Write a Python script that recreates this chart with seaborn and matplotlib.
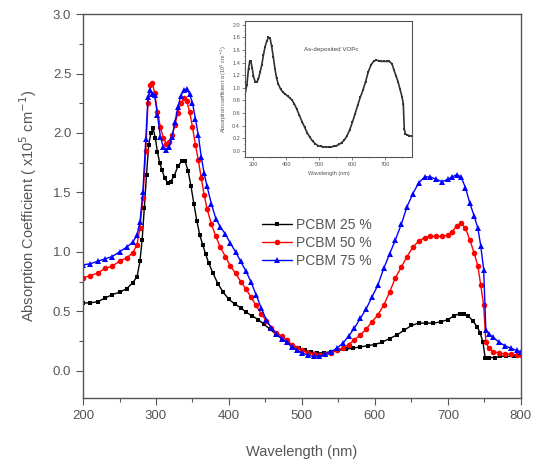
import numpy as np
import pandas as pd
import matplotlib
matplotlib.use("Agg")
import matplotlib.pyplot as plt
import seaborn as sns
from matplotlib.ticker import MultipleLocator

sns.set_style("ticks")
plt.rcParams['font.family'] = ['Liberation Sans', 'DejaVu Sans']

# PCBM 25 %
wl_25 = [200, 210, 220, 230, 240, 250, 260, 268, 274, 278,
         281, 284, 287, 290, 293, 296, 299, 302, 305, 308,
         312, 316, 320, 325, 330, 335, 340, 344, 348, 352,
         356, 360, 364, 368, 372, 378, 385, 392, 400, 408,
         416, 424, 432, 440, 448, 456, 464, 472, 480, 488,
         496, 504, 512, 520, 530, 540, 550, 560, 570, 580,
         590, 600, 610, 620, 630, 640, 650, 660, 670, 680,
         690, 700, 708, 716, 722, 728, 734, 740, 744, 748,
         751, 756, 764, 772, 780, 790, 800]
abs_25 = [0.57, 0.57, 0.58, 0.61, 0.64, 0.66, 0.69, 0.74, 0.79, 0.92,
          1.10, 1.37, 1.65, 1.90, 2.00, 2.04, 1.96, 1.84, 1.75, 1.69,
          1.62, 1.58, 1.59, 1.64, 1.72, 1.76, 1.76, 1.68, 1.55, 1.40,
          1.26, 1.14, 1.06, 0.98, 0.91, 0.82, 0.73, 0.66, 0.60, 0.56,
          0.53, 0.49, 0.46, 0.43, 0.39, 0.35, 0.31, 0.27, 0.24, 0.21,
          0.19, 0.17, 0.16, 0.15, 0.15, 0.16, 0.17, 0.18, 0.19, 0.20,
          0.21, 0.22, 0.24, 0.27, 0.30, 0.34, 0.38, 0.40, 0.40, 0.40,
          0.41, 0.43, 0.46, 0.48, 0.48, 0.46, 0.42, 0.37, 0.32, 0.24,
          0.11, 0.11, 0.11, 0.12, 0.12, 0.12, 0.13]

# PCBM 50 % e 75 % usam os mesmos comprimentos de onda
wl_50_75 = [200, 210, 220, 230, 240, 250, 260, 268, 274, 278,
            282, 286, 289, 292, 295, 298, 302, 306, 310, 314,
            318, 322, 326, 330, 334, 338, 342, 346, 350, 354,
            358, 362, 366, 370, 376, 382, 388, 395, 402, 409,
            416, 423, 430, 437, 444, 451, 458, 465, 472, 479,
            486, 493, 500, 508, 516, 524, 532, 540, 548, 556,
            564, 572, 580, 588, 596, 604, 612, 620, 628, 636,
            644, 652, 660, 668, 676, 684, 692, 700, 706, 712,
            718, 724, 730, 736, 741, 745, 749, 752, 756, 762,
            770, 778, 786, 794, 800]
abs_50 = [0.78, 0.80, 0.82, 0.86, 0.88, 0.92, 0.95, 0.99, 1.06, 1.20,
          1.45, 1.85, 2.25, 2.40, 2.42, 2.34, 2.18, 2.05, 1.96, 1.91,
          1.92, 1.98, 2.07, 2.17, 2.25, 2.29, 2.27, 2.18, 2.05, 1.90,
          1.77, 1.62, 1.48, 1.36, 1.23, 1.13, 1.04, 0.96, 0.88, 0.82,
          0.75, 0.69, 0.62, 0.55, 0.48, 0.42, 0.36, 0.32, 0.29, 0.26,
          0.22, 0.19, 0.17, 0.15, 0.14, 0.13, 0.14, 0.15, 0.17, 0.19,
          0.22, 0.26, 0.30, 0.35, 0.41, 0.47, 0.55, 0.66, 0.78, 0.87,
          0.96, 1.04, 1.09, 1.12, 1.13, 1.13, 1.13, 1.14, 1.17, 1.22,
          1.24, 1.20, 1.10, 0.99, 0.88, 0.72, 0.55, 0.24, 0.19, 0.16,
          0.15, 0.14, 0.14, 0.13, 0.13]
abs_75 = [0.89, 0.90, 0.92, 0.94, 0.96, 1.00, 1.04, 1.08, 1.14, 1.25,
          1.50, 1.95, 2.30, 2.36, 2.33, 2.32, 2.15, 1.97, 1.88, 1.86,
          1.88, 1.97, 2.09, 2.22, 2.31, 2.36, 2.37, 2.33, 2.25, 2.12,
          1.98, 1.80, 1.66, 1.55, 1.40, 1.28, 1.21, 1.15, 1.07, 1.00,
          0.92, 0.84, 0.75, 0.64, 0.53, 0.43, 0.36, 0.31, 0.27, 0.24,
          0.20, 0.17, 0.15, 0.13, 0.12, 0.12, 0.14, 0.16, 0.19, 0.23,
          0.29, 0.36, 0.44, 0.52, 0.62, 0.72, 0.86, 0.98, 1.10, 1.23,
          1.38, 1.49, 1.58, 1.63, 1.63, 1.61, 1.59, 1.61, 1.63, 1.65,
          1.63, 1.54, 1.41, 1.30, 1.20, 1.05, 0.85, 0.34, 0.31, 0.28,
          0.24, 0.21, 0.19, 0.17, 0.16]

# inset: filme de VOPc
wl_vopc = [276, 281, 286, 290, 293, 297, 301, 306, 311, 316,
           321, 326, 331, 336, 341, 346, 351, 356, 361, 366,
           371, 376, 383, 390, 397, 404, 411, 418, 425, 432,
           440, 448, 456, 464, 472, 480, 488, 496, 504, 512,
           520, 528, 536, 544, 552, 560, 568, 576, 584, 592,
           600, 608, 616, 624, 632, 640, 648, 656, 664, 672,
           680, 688, 696, 704, 712, 720, 726, 732, 738, 744,
           750, 754, 757, 760, 766, 772, 779]
abs_vopc = [0.91, 1.05, 1.30, 1.43, 1.42, 1.32, 1.18, 1.10, 1.09, 1.14,
            1.25, 1.36, 1.52, 1.65, 1.74, 1.80, 1.79, 1.66, 1.49, 1.30,
            1.15, 1.06, 0.98, 0.93, 0.90, 0.87, 0.84, 0.80, 0.74, 0.66,
            0.56, 0.46, 0.37, 0.28, 0.21, 0.15, 0.11, 0.08, 0.07, 0.06,
            0.06, 0.06, 0.06, 0.07, 0.08, 0.10, 0.13, 0.17, 0.24, 0.33,
            0.45, 0.58, 0.72, 0.85, 0.96, 1.10, 1.25, 1.36, 1.42, 1.44,
            1.43, 1.42, 1.42, 1.42, 1.42, 1.38, 1.28, 1.19, 1.10, 0.98,
            0.86, 0.75, 0.35, 0.27, 0.25, 0.24, 0.23]

labels = ['PCBM 25 %', 'PCBM 50 %', 'PCBM 75 %']
cor_eixo = '#555555'

fig = plt.figure(figsize=(5.37, 4.70), dpi=100)
ax = fig.add_axes([0.1546, 0.1532, 0.8154, 0.8168])

sns.lineplot(x=wl_25, y=abs_25, ax=ax, sort=False, color='black', marker='s',
             markersize=3.5, markeredgewidth=0, linewidth=1, label=labels[0])
sns.lineplot(x=wl_50_75, y=abs_50, ax=ax, sort=False, color='red', marker='o',
             markersize=4, markeredgewidth=0, linewidth=1, label=labels[1])
sns.lineplot(x=wl_50_75, y=abs_75, ax=ax, sort=False, color='blue', marker='^',
             markersize=4.8, markeredgewidth=0, linewidth=1, label=labels[2])

ax.set_xlim(200, 800)
ax.set_ylim(-0.23, 3.0)
ax.xaxis.set_major_locator(MultipleLocator(100))
ax.xaxis.set_minor_locator(MultipleLocator(50))
ax.yaxis.set_major_locator(MultipleLocator(0.5))
ax.yaxis.set_minor_locator(MultipleLocator(0.25))
ax.yaxis.set_major_formatter(matplotlib.ticker.FormatStrFormatter('%.1f'))
ax.tick_params(which='major', direction='out', length=5, width=0.8,
               color=cor_eixo, labelcolor=cor_eixo, labelsize=9.5)
ax.tick_params(which='minor', direction='out', length=3, width=0.8, color=cor_eixo)
for s in ax.spines.values():
    s.set_visible(True)
    s.set_color(cor_eixo)
    s.set_linewidth(1.0)

ax.set_xlabel('Wavelength (nm)', fontsize=10.5, color=cor_eixo, labelpad=17)
ax.set_ylabel('Absorption Coefficient ( x10$^5$ cm$^{-1}$)', fontsize=10.5,
              color=cor_eixo, labelpad=10)

leg = ax.legend(loc='upper left', bbox_to_anchor=(0.397, 0.484), borderaxespad=0,
                frameon=False, fontsize=10, labelspacing=0.3, handlelength=2.1,
                handletextpad=0.3)
for t in leg.get_texts():
    t.set_color(cor_eixo)

# inset
axin = fig.add_axes([0.456, 0.666, 0.311, 0.289])
sns.lineplot(x=wl_vopc, y=abs_vopc, ax=axin, sort=False, color='#333333', marker='s',
             markersize=1.6, markeredgewidth=0, linewidth=1.2)
axin.set_xlim(275, 780)
axin.set_ylim(-0.1, 2.06)
axin.xaxis.set_major_locator(MultipleLocator(100))
axin.xaxis.set_minor_locator(MultipleLocator(50))
axin.yaxis.set_major_locator(MultipleLocator(0.2))
axin.yaxis.set_minor_locator(MultipleLocator(0.1))
axin.yaxis.set_major_formatter(matplotlib.ticker.FormatStrFormatter('%.1f'))
axin.tick_params(which='major', direction='out', length=2, width=0.5,
                 color=cor_eixo, labelcolor=cor_eixo, labelsize=4, pad=1.5)
axin.tick_params(which='minor', direction='out', length=1, width=0.5, color=cor_eixo)
for s in axin.spines.values():
    s.set_visible(True)
    s.set_color(cor_eixo)
    s.set_linewidth(0.8)
axin.set_xlabel('Wavelength (nm)', fontsize=4, color=cor_eixo, labelpad=3)
axin.set_ylabel('Absorption coefficient α (10$^5$ cm$^{-1}$)', fontsize=4,
                color=cor_eixo, labelpad=2)
axin.text(0.52, 0.78, 'As-deposited VOPc', transform=axin.transAxes,
          fontsize=4.5, color='#444444', ha='center')

fig.savefig('out.png', dpi=100)
